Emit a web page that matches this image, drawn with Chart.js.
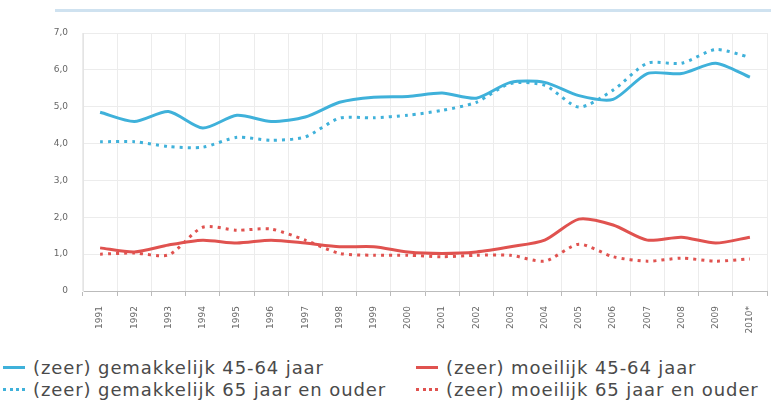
<!DOCTYPE html>
<html>
<head>
<meta charset="utf-8">
<script src="https://cdn.jsdelivr.net/npm/chart.js@4/dist/chart.umd.min.js"></script>
<style>
  body { margin: 0; background: #fff; width: 771px; height: 405px; overflow: hidden; position: relative; font-family: "DejaVu Sans", Verdana, sans-serif; }
  #topline { position: absolute; left: 55px; top: 9px; width: 716px; height: 3px; background: #cfe2f0; }
  #wrap { position: absolute; left: 0; top: 0; width: 771px; height: 345px; }
  .legend { position: absolute; font-size: 18px; letter-spacing: 0.9px; color: #4a4a4a; white-space: nowrap; }
  .sym { display: inline-block; width: 22px; vertical-align: middle; margin-right: 8px; position: relative; top: -2px; }
</style>
</head>
<body>
<div id="topline"></div>
<div id="wrap"><canvas id="myChart" width="771" height="345"></canvas></div>
<div class="legend" style="left:3px; top:357px;"><span class="sym" style="border-top:3px solid #3fb1da"></span>(zeer) gemakkelijk 45-64 jaar</div>
<div class="legend" style="left:3px; top:379px;"><span class="sym" style="border-top:3px dotted #3fb1da"></span>(zeer) gemakkelijk 65 jaar en ouder</div>
<div class="legend" style="left:416px; top:357px;"><span class="sym" style="border-top:3px solid #e0524f"></span>(zeer) moeilijk 45-64 jaar</div>
<div class="legend" style="left:416px; top:379px;"><span class="sym" style="border-top:3px dotted #e0524f"></span>(zeer) moeilijk 65 jaar en ouder</div>
<script>
var years = ["1991", "1992", "1993", "1994", "1995", "1996", "1997", "1998", "1999", "2000",
             "2001", "2002", "2003", "2004", "2005", "2006", "2007", "2008", "2009", "2010*"];

var gemak4564 = [4.85, 4.6, 4.87, 4.42, 4.77, 4.6, 4.72, 5.12, 5.26, 5.28,
                 5.37, 5.23, 5.66, 5.66, 5.3, 5.2, 5.9, 5.9, 6.18, 5.8];
var gemak65 = [4.05, 4.05, 3.92, 3.9, 4.17, 4.09, 4.18, 4.69, 4.7, 4.77,
               4.9, 5.12, 5.63, 5.58, 4.99, 5.45, 6.18, 6.18, 6.55, 6.34];
var moeil4564 = [1.17, 1.06, 1.25, 1.38, 1.3, 1.38, 1.3, 1.2, 1.2, 1.06,
                 1.02, 1.06, 1.2, 1.38, 1.95, 1.79, 1.38, 1.46, 1.3, 1.46];
var moeil65 = [1.0, 1.03, 0.98, 1.73, 1.65, 1.68, 1.38, 1.02, 0.97, 0.97,
               0.93, 0.97, 0.97, 0.81, 1.27, 0.93, 0.81, 0.89, 0.81, 0.87];

var yTicks = ["0", "1,0", "2,0", "3,0", "4,0", "5,0", "6,0", "7,0"];

var blue = '#3fb1da';
var red = '#e0524f';

var ctx = document.getElementById("myChart").getContext('2d');

var myChart = new Chart(ctx, {
    type: 'line',
    data: {
        labels: years,
        datasets: [{
            label: '(zeer) gemakkelijk 45-64 jaar',
            data: gemak4564,
            borderColor: blue,
            borderWidth: 3
        }, {
            label: '(zeer) gemakkelijk 65 jaar en ouder',
            data: gemak65,
            borderColor: blue,
            borderWidth: 3,
            borderDash: [3, 5]
        }, {
            label: '(zeer) moeilijk 45-64 jaar',
            data: moeil4564,
            borderColor: red,
            borderWidth: 3
        }, {
            label: '(zeer) moeilijk 65 jaar en ouder',
            data: moeil65,
            borderColor: red,
            borderWidth: 3,
            borderDash: [3, 5]
        }]
    },
    options: {
        responsive: false,
        animation: false,
        elements: {
            point: { radius: 0 },
            line: { tension: 0.25, fill: false }
        },
        layout: { padding: { top: 33, right: 4, left: 0, bottom: 0 } },
        plugins: {
            legend: { display: false },
            tooltip: { enabled: false }
        },
        scales: {
            x: {
                offset: true,
                grid: { offset: true, color: '#ececec', tickLength: 5, tickColor: '#bbb' },
                border: { color: '#bbb', width: 1 },
                ticks: {
                    color: '#666',
                    font: { size: 9, family: 'DejaVu Sans' },
                    minRotation: 90,
                    maxRotation: 90,
                    padding: 10,
                    autoSkip: false
                },
                afterFit: function(scale) { scale.height = 54; }
            },
            y: {
                min: 0,
                max: 7,
                grid: { color: '#ececec', drawTicks: false },
                border: { color: '#e4e4e4' },
                ticks: {
                    stepSize: 1,
                    color: '#666',
                    padding: 15,
                    font: { size: 9, family: 'DejaVu Sans' },
                    callback: function(value) { return yTicks[value]; }
                },
                afterFit: function(scale) { scale.width = 83; }
            }
        }
    }
});
</script>
</body>
</html>
